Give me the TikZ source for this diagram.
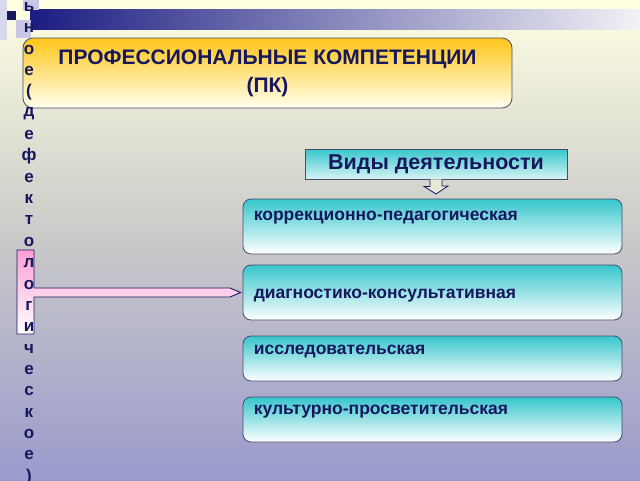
\documentclass[tikz,border=0pt]{standalone}
\usepackage{fontspec}
\setmainfont{Liberation Sans}
\definecolor{navy}{HTML}{17175E}
\definecolor{boxline}{HTML}{4A4A6E}
\definecolor{teal}{HTML}{36C6CC}
\definecolor{gold}{HTML}{FFC61A}
\definecolor{pinkf}{HTML}{FF9FD6}
\definecolor{bgtop}{HTML}{FFFFE2}
\definecolor{bgmid}{HTML}{C9C9C9}
\definecolor{bgbot}{HTML}{9A9ACD}
\definecolor{barL}{HTML}{1C1C82}
\definecolor{barR}{HTML}{F2F2F6}
\definecolor{lav}{HTML}{C8C8E4}
\begin{document}
\begin{tikzpicture}[x=1pt,y=-1pt,
  actbox/.style={draw=boxline, line width=0.8pt, rounded corners=8pt, top color=teal, bottom color=white, minimum width=379pt, minimum height=55pt, inner sep=0pt},
  acttext/.style={anchor=west, text=navy, font=\fontsize{17.5}{20}\selectfont\bfseries, inner sep=0pt},
  letter/.style={text=navy, font=\fontsize{17}{20}\selectfont\bfseries, inner sep=0pt}]
\useasboundingbox (0,0) rectangle (640,480);
% background
\shade[top color=bgtop, bottom color=bgbot, middle color=bgmid] (0,0) rectangle (640,480);
% header bar and squares
\shade[left color=barL, right color=barR] (30,9) rectangle (640,29);
\fill[lav] (23,0) rectangle (39,10);
\fill[lav] (16,20) rectangle (31,38);
\fill[lav!70] (0,0) rectangle (7,40);
\fill[navy] (7,11) rectangle (16,20);
% title box
\node[draw=boxline, line width=0.8pt, rounded corners=10pt, top color=gold, bottom color=bgtop!60!white, minimum width=489pt, minimum height=70pt, inner sep=0pt, align=center, text=navy, font=\fontsize{21}{28}\selectfont\bfseries] (title) at (267.5,73) {ПРОФЕССИОНАЛЬНЫЕ КОМПЕТЕНЦИИ\\(ПК)};
% kinds header
\node[draw=boxline, line width=0.8pt, top color=teal, bottom color=teal!20!white, minimum width=262pt, minimum height=30pt, inner sep=0pt, text=navy, font=\fontsize{21.5}{24}\selectfont\bfseries] (kinds) at (436,164) {Виды деятельности};
% hollow down arrow
\draw[navy, line width=0.8pt, fill=bgtop!60!bgmid] ([xshift=-6pt]kinds.south) -- ++(0,7) -- ++(-6,0) -- (436,194) coordinate (tipk) -- ++(12,-8) -- ++(-6,0) -- ([xshift=6pt]kinds.south);
% activity boxes
\node[actbox] (b1) at (432.5,226.5) {};
\node[actbox] (b2) at (432.5,292.5) {};
\node[actbox,minimum height=45pt] (b3) at (432.5,358.5) {};
\node[actbox,minimum height=45pt] (b4) at (432.5,419.5) {};
\node[acttext] (t1) at ([xshift=11pt]b1.west |- 0,218) {коррекционно-педагогическая};
\node[acttext] (t2) at ([xshift=11pt]b2.west |- 0,296) {диагностико-консультативная};
\node[acttext] (t3) at ([xshift=11pt]b3.west |- 0,352) {исследовательская};
\node[acttext] (t4) at ([xshift=11pt]b4.west |- 0,412) {культурно-просветительская};
% pink T arrow
\coordinate (tipb) at ([xshift=-2pt]b2.west);
\shade[top color=pinkf, bottom color=white, draw=navy, line width=0.9pt]
  (17,250) -- (34,250) -- (34,288) -- (230,288) -- (tipb) -- (230,297) -- (34,297) -- (34,334) -- (17,334) -- cycle;
% vertical letters
\foreach \ch [count=\i from 0] in {ь,н,о,е,{(},д,е,ф,е,к,т,о,л,о,г,и,ч,е,с,к,о,е,{)}} {
  \node[letter] (L\i) at (29,{7+21.35*\i}) {\ch};
}
\end{tikzpicture}
\end{document}
